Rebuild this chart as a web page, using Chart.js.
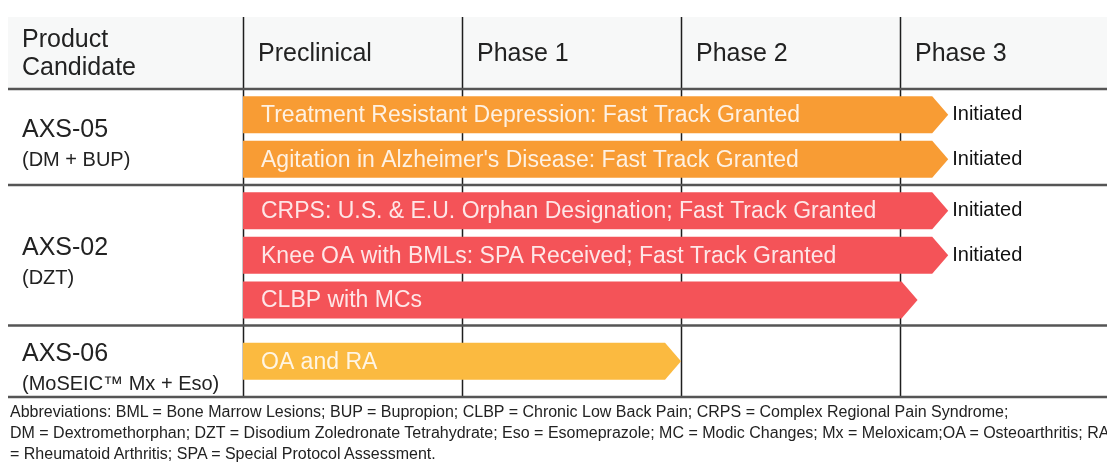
<!DOCTYPE html>
<html>
<head>
<meta charset="utf-8">
<script src="https://cdn.jsdelivr.net/npm/chart.js@4.4.1/dist/chart.umd.min.js"></script>
<style>
  html, body { margin: 0; padding: 0; background: #fff; overflow: hidden; width: 1107px; height: 464px; }
  #wrap { position: relative; width: 1107px; height: 464px; }
  canvas { position: absolute; left: 0; top: 0; }
  #abbr { position: absolute; left: 10px; top: 401px; font-family: "Liberation Sans", Arial, sans-serif;
          font-size: 16px; line-height: 21px; color: #222; white-space: nowrap; }
</style>
</head>
<body>
<div id="wrap">
  <canvas id="c" width="1107" height="464"></canvas>
  <div id="abbr"></div>
</div>
<script>
// ---- data ----
const phases = ['Preclinical', 'Phase 1', 'Phase 2', 'Phase 3'];
const headerFirst = ['Product', 'Candidate'];
const products = ['AXS-05', 'AXS-02', 'AXS-06'];
const productSubs = ['(DM + BUP)', '(DZT)', '(MoSEIC\u2122 Mx + Eso)'];
const indications = [
  'Treatment Resistant Depression: Fast Track Granted',
  "Agitation in Alzheimer's Disease: Fast Track Granted",
  'CRPS: U.S. & E.U. Orphan Designation; Fast Track Granted',
  'Knee OA with BMLs: SPA Received; Fast Track Granted',
  'CLBP with MCs',
  'OA and RA'
];
const indicationProduct = [0, 0, 1, 1, 1, 2];
const progress = [3.22, 3.22, 3.22, 3.22, 3.08, 2.0];   // in phase units (0 = start of Preclinical)
const statusText = ['Initiated', 'Initiated', 'Initiated', 'Initiated', '', ''];
const abbreviations = [
  'Abbreviations: BML = Bone Marrow Lesions; BUP = Bupropion; CLBP = Chronic Low Back Pain; CRPS = Complex Regional Pain Syndrome;',
  'DM = Dextromethorphan; DZT = Disodium Zoledronate Tetrahydrate; Eso = Esomeprazole; MC = Modic Changes; Mx = Meloxicam;OA = Osteoarthritis; RA',
  '= Rheumatoid Arthritis; SPA = Special Protocol Assessment.'
];

// ---- styles / layout ----
const productColors = ['#F89C34', '#F45358', '#FBBA40'];
const FONT = '"Liberation Sans", Arial, sans-serif';
const HEADER_H = 72;
const ROW_PAD = 0.15, MIN_ROW = 1.6;

document.getElementById('abbr').innerHTML = abbreviations.map(s => s.replace(/&/g,'&amp;')).join('<br>');

// row structure (in bar-pitch units) derived from grouping
const rows = [];
let cursor = 0;
const yPos = new Array(indications.length);
products.forEach((p, pi) => {
  const idx = indicationProduct.map((g, i) => g === pi ? i : -1).filter(i => i >= 0);
  const h = Math.max(idx.length + ROW_PAD, MIN_ROW);
  const off = (h - idx.length) / 2;
  idx.forEach((i, k) => { yPos[i] = cursor + off + k + 0.5; });
  rows.push({ start: cursor, end: cursor + h });
  cursor += h;
});
const totalUnits = cursor;

const tablePlugin = {
  id: 'table',
  beforeDatasetsDraw(chart) {
    const { ctx, chartArea: ca, scales: { x, y } } = chart;
    const left = 8, right = chart.width;
    const top = ca.top - HEADER_H;
    ctx.save();
    // header background
    ctx.fillStyle = '#F7F8F8';
    ctx.fillRect(left, top, right - left, HEADER_H);
    // vertical phase lines
    ctx.strokeStyle = '#1e1e1e';
    ctx.lineWidth = 1.5;
    phases.forEach((ph, i) => {
      const px = Math.round(x.getPixelForValue(i)) + 0.5;
      ctx.beginPath(); ctx.moveTo(px, top); ctx.lineTo(px, ca.bottom); ctx.stroke();
    });
    // horizontal separators
    ctx.strokeStyle = '#555';
    ctx.lineWidth = 2.5;
    const hl = [0, ...rows.map(r => r.end)];
    hl.forEach(v => {
      const py = y.getPixelForValue(v);
      ctx.beginPath(); ctx.moveTo(left, py); ctx.lineTo(right, py); ctx.stroke();
    });
    // header text
    ctx.fillStyle = '#222';
    ctx.font = '25px ' + FONT;
    ctx.textBaseline = 'alphabetic';
    ctx.textAlign = 'left';
    ctx.fillText(headerFirst[0], 22, top + 30);
    ctx.fillText(headerFirst[1], 22, top + 58);
    phases.forEach((ph, i) => {
      ctx.fillText(ph, x.getPixelForValue(i) + 15, top + 44);
    });
    // product labels
    rows.forEach((r, pi) => {
      const cy = (y.getPixelForValue(r.start) + y.getPixelForValue(r.end)) / 2;
      ctx.font = '25px ' + FONT;
      ctx.fillText(products[pi], 22, cy);
      ctx.font = '20px ' + FONT;
      ctx.fillText(productSubs[pi], 22, cy + 29);
    });
    ctx.restore();
  },
  afterDatasetsDraw(chart) {
    const { ctx } = chart;
    const meta = chart.getDatasetMeta(0);
    ctx.save();
    meta.data.forEach((el, i) => {
      const { x: tip, y: cy, base, height } = el.getProps(['x', 'y', 'base', 'height'], true);
      const head = 16;
      const t = cy - height / 2, b = cy + height / 2;
      ctx.fillStyle = productColors[indicationProduct[i]];
      ctx.beginPath();
      ctx.moveTo(base, t);
      ctx.lineTo(tip - head, t);
      ctx.lineTo(tip, cy);
      ctx.lineTo(tip - head, b);
      ctx.lineTo(base, b);
      ctx.closePath();
      ctx.fill();
      ctx.fillStyle = 'rgba(255,255,255,0.86)';
      ctx.font = '23px ' + FONT;
      ctx.textBaseline = 'middle';
      ctx.textAlign = 'left';
      ctx.fillText(indications[i], base + 18, cy + 1);
      if (statusText[i]) {
        ctx.fillStyle = '#111';
        ctx.font = '20px ' + FONT;
        ctx.fillText(statusText[i], tip + 4, cy);
      }
    });
    ctx.restore();
  }
};

new Chart(document.getElementById('c'), {
  type: 'bar',
  data: {
    labels: indications,
    datasets: [{
      data: indications.map((_, i) => ({ x: progress[i], y: yPos[i] })),
      backgroundColor: 'rgba(0,0,0,0)',
      borderWidth: 0,
      barThickness: 37
    }]
  },
  options: {
    indexAxis: 'y',
    responsive: false,
    animation: false,
    layout: { padding: { left: 243, top: 17 + HEADER_H, right: 0, bottom: 464 - 397 } },
    plugins: { legend: { display: false }, tooltip: { enabled: false } },
    scales: {
      x: { type: 'linear', min: 0, max: 3.945, display: false, offset: false },
      y: { type: 'linear', min: 0, max: totalUnits, reverse: true, display: false, offset: false }
    }
  },
  plugins: [tablePlugin]
});
</script>
</body>
</html>
